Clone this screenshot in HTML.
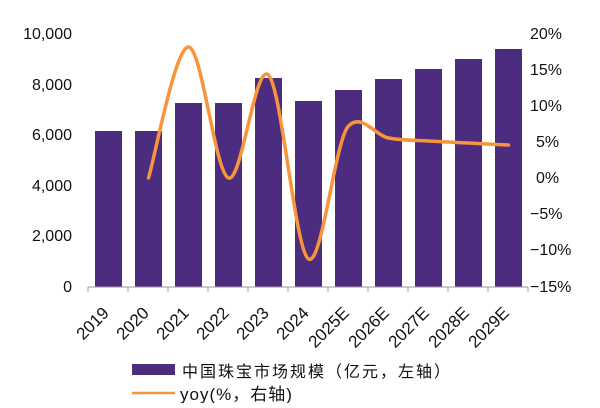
<!DOCTYPE html>
<html><head><meta charset="utf-8"><style>
body{margin:0;background:#fff;width:600px;height:403px;overflow:hidden}
text{font-family:"Liberation Sans","Noto Sans CJK SC",sans-serif;fill:#111}
</style></head><body>
<svg width="600" height="403" xmlns="http://www.w3.org/2000/svg">
<g font-size="16" text-anchor="end">
<text x="72" y="39">10,000</text><text x="72" y="90">8,000</text><text x="72" y="140">6,000</text>
<text x="72" y="191">4,000</text><text x="72" y="241">2,000</text><text x="72" y="292">0</text>
</g>
<g font-size="16">
<text x="530" y="39">20%</text><text x="530" y="75">15%</text><text x="530" y="111">10%</text>
<text x="536" y="147">5%</text><text x="536" y="183">0%</text><text x="530" y="219">−5%</text>
<text x="530" y="255">−10%</text><text x="530" y="292">−15%</text>
</g>
<g fill="#4b2c7e">
<rect x="95" y="131" width="27" height="156"/><rect x="135" y="131" width="27" height="156"/>
<rect x="175" y="103" width="27" height="184"/><rect x="215" y="103" width="27" height="184"/>
<rect x="255" y="78" width="27" height="209"/><rect x="295" y="101" width="27" height="186"/>
<rect x="335" y="90" width="27" height="197"/><rect x="375" y="79" width="27" height="208"/>
<rect x="415" y="69" width="27" height="218"/><rect x="455" y="59" width="27" height="228"/>
<rect x="495" y="49" width="27" height="238"/>
</g>
<path d="M88 287H528M88 287v5M128 287v5M168 287v5M208 287v5M248 287v5M288 287v5M328 287v5M368 287v5M408 287v5M448 287v5M488 287v5M528 287v5" stroke="#999" stroke-width="1" fill="none"/>
<path d="M148.5 178C155.2 156.2 175.2 47 188.5 47C201.8 47 215.2 173.3 228.5 178C241.8 182.7 255.2 61.8 268.5 75C281.8 88.5 295.2 250.8 308.5 259C321.8 267.5 335.2 139.5 348.5 126C361.8 112.5 375.2 135.5 388.5 138C401.8 140.5 415.2 140.2 428.5 141C441.8 141.8 455.2 142.3 468.5 143C481.8 143.7 495.2 144.7 508.5 145" stroke="#f7943c" stroke-width="3.5" fill="none" stroke-linecap="round"/>
<g font-size="17" text-anchor="end">
<text transform="translate(110,314) rotate(-45)">2019</text>
<text transform="translate(150,314) rotate(-45)">2020</text>
<text transform="translate(190,314) rotate(-45)">2021</text>
<text transform="translate(230,314) rotate(-45)">2022</text>
<text transform="translate(270,314) rotate(-45)">2023</text>
<text transform="translate(310,314) rotate(-45)">2024</text>
<text transform="translate(350,314) rotate(-45)">2025E</text>
<text transform="translate(390,314) rotate(-45)">2026E</text>
<text transform="translate(430,314) rotate(-45)">2027E</text>
<text transform="translate(470,314) rotate(-45)">2028E</text>
<text transform="translate(510,314) rotate(-45)">2029E</text>
</g>
<rect x="132" y="364" width="43" height="11" fill="#4b2c7e"/>
<text x="182" y="377" font-size="16" letter-spacing="2">中国珠宝市场规模（亿元，左轴）</text>
<line x1="132" y1="393" x2="175" y2="393" stroke="#f7943c" stroke-width="2.5"/>
<text x="180" y="400" font-size="17" letter-spacing="1">yoy(%，右轴)</text>
</svg>
</body></html>
